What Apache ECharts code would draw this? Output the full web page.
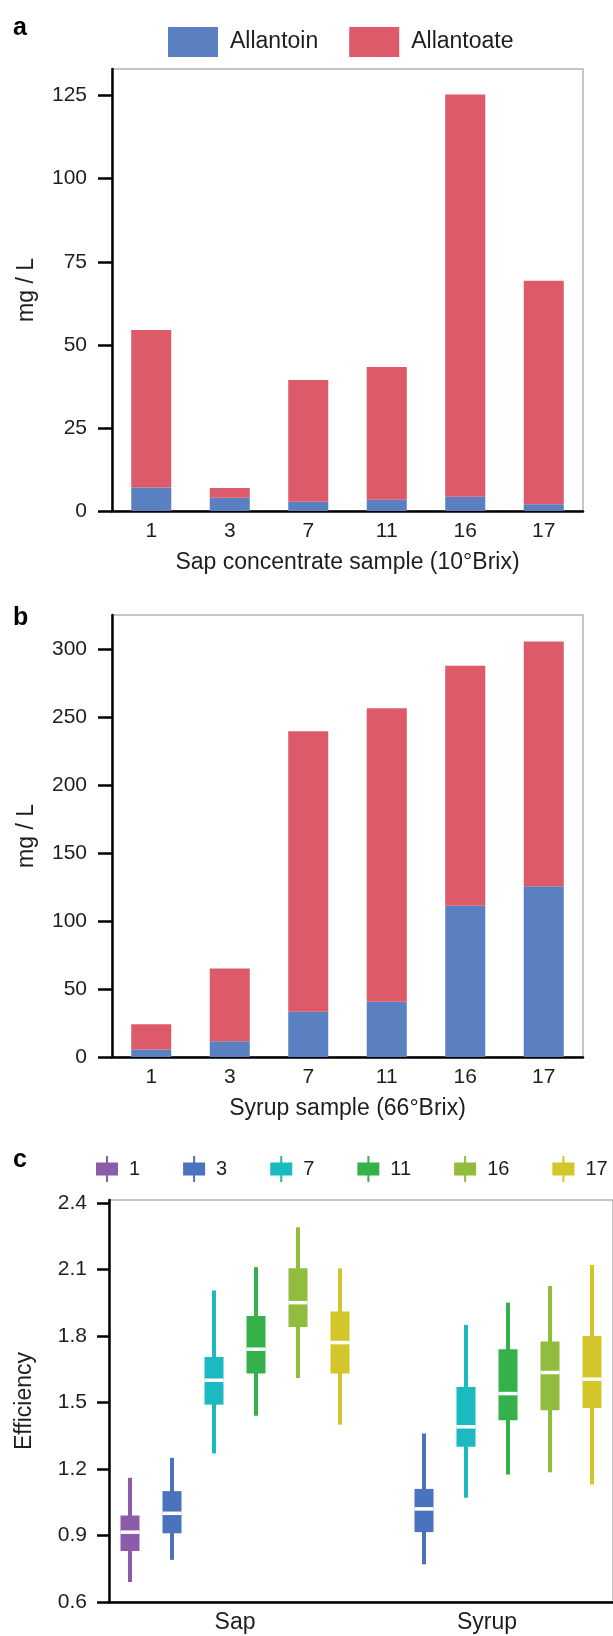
<!DOCTYPE html>
<html>
<head>
<meta charset="utf-8">
<script src="https://cdn.jsdelivr.net/npm/echarts@6.0.0/dist/echarts.min.js"></script>
<style>
  html, body { margin: 0; padding: 0; background: #fff; }
  #chart { width: 613px; height: 1636px; }
</style>
</head>
<body>
<div id="chart"></div>
<script>
const samples = ['1', '3', '7', '11', '16', '17'];

// a: sap concentrate (10°Brix), mg / L
const sapAllantoin = [7.1, 4.0, 2.8, 3.4, 4.3, 2.0];
const sapAllantoate = [47.4, 2.9, 36.6, 39.9, 121.0, 67.3];
const ticksA = [0, 25, 50, 75, 100, 125];

// b: syrup (66°Brix), mg / L
const syrupAllantoin = [5.5, 11.5, 33.3, 40.7, 111.3, 125.5];
const syrupAllantoate = [18.6, 53.6, 206.3, 215.7, 176.4, 180.0];
const ticksB = [0, 50, 100, 150, 200, 250, 300];

// c: efficiency, [min, q1, median, q3, max] for Sap / Syrup
const groupsC = ['Sap', 'Syrup'];
const eff1 = [[0.69, 0.83, 0.915, 0.99, 1.16], null];
const eff3 = [[0.79, 0.91, 1.00, 1.10, 1.25], [0.77, 0.915, 1.02, 1.11, 1.36]];
const eff7 = [[1.27, 1.49, 1.60, 1.705, 2.005], [1.07, 1.30, 1.39, 1.57, 1.85]];
const eff11 = [[1.44, 1.63, 1.74, 1.89, 2.11], [1.175, 1.42, 1.54, 1.74, 1.95]];
const eff16 = [[1.61, 1.84, 1.95, 2.105, 2.29], [1.185, 1.465, 1.635, 1.775, 2.025]];
const eff17 = [[1.40, 1.63, 1.77, 1.91, 2.105], [1.13, 1.475, 1.605, 1.80, 2.12]];
const ticksC = [0.6, 0.9, 1.2, 1.5, 1.8, 2.1, 2.4];

const blue = '#5a80c1';
const red = '#dc5a6a';
const boxColors = ['#8c5ca8', '#4a72be', '#1bbac0', '#34b14b', '#92bc3d', '#d3c62b'];
const font = '"Liberation Sans", Arial, Helvetica, sans-serif';
const ink = '#1e1e1e';

const chart = echarts.init(document.getElementById('chart'));

const yAxisBase = (ticks, max, tickLen) => ({
    type: 'value',
    min: ticks[0],
    max: max,
    nameLocation: 'middle',
    nameGap: 74,
    nameTextStyle: { fontSize: 23, color: ink, fontFamily: font },
    axisLine: { show: true, lineStyle: { color: '#000', width: 2.5 } },
    axisTick: { show: true, length: tickLen, customValues: ticks, lineStyle: { color: '#000', width: 2.5 } },
    axisLabel: { fontSize: 21, color: ink, fontFamily: font, margin: 25, customValues: ticks },
    splitLine: { show: false }
})

const xAxisBars = (gridIndex, name) => ({
    type: 'category',
    gridIndex: gridIndex,
    data: samples,
    name: name,
    nameLocation: 'middle',
    nameGap: 40,
    nameTextStyle: { fontSize: 23, color: ink, fontFamily: font },
    axisLine: { lineStyle: { color: '#000', width: 2.5 } },
    axisTick: { show: false },
    axisLabel: { fontSize: 21, color: ink, fontFamily: font, margin: 10 }
})

// box drawn from the axis scales: whisker, box, white median
const boxRender = (slot, color) => (params, api) => {
    const cat = api.value(0);
    const step = api.size([1, 0])[0] / 6;
    const x = api.coord([cat, 0])[0] + (slot - 2.5) * step;
    const yMin = api.coord([cat, api.value(1)])[1];
    const yQ1 = api.coord([cat, api.value(2)])[1];
    const yMed = api.coord([cat, api.value(3)])[1];
    const yQ3 = api.coord([cat, api.value(4)])[1];
    const yMax = api.coord([cat, api.value(5)])[1];
    const w = 19;
    return {
        type: 'group',
        children: [
            { type: 'line', shape: { x1: x, y1: yMax, x2: x, y2: yMin }, style: { stroke: color, lineWidth: 4 } },
            { type: 'rect', shape: { x: x - w / 2, y: yQ3, width: w, height: yQ1 - yQ3 }, style: { fill: color } },
            { type: 'line', shape: { x1: x - w / 2, y1: yMed, x2: x + w / 2, y2: yMed }, style: { stroke: '#fff', lineWidth: 3.5 } }
        ]
    };
}

const effSets = [eff1, eff3, eff7, eff11, eff16, eff17];
const boxSeries = effSets.map((set, i) => ({
    name: samples[i],
    type: 'custom',
    xAxisIndex: 2,
    yAxisIndex: 2,
    itemStyle: { color: boxColors[i] },
    encode: { x: 0, y: [1, 2, 3, 4, 5] },
    renderItem: boxRender(i, boxColors[i]),
    data: set.map((v, g) => v ? [g].concat(v) : null).filter(d => d)
}))

const option = {
    animation: false,
    textStyle: { fontFamily: font },
    graphic: [
        { type: 'text', left: 13, top: 16, style: { text: 'a', font: 'bold 25px ' + font, fill: '#000' } },
        { type: 'text', left: 13, top: 606, style: { text: 'b', font: 'bold 25px ' + font, fill: '#000' } },
        { type: 'text', left: 13, top: 1148, style: { text: 'c', font: 'bold 25px ' + font, fill: '#000' } }
    ],
    legend: [
        {
            data: ['Allantoin', 'Allantoate'],
            left: 163,
            top: 22,
            itemWidth: 50,
            itemHeight: 30,
            itemGap: 31,
            icon: 'rect',
            textStyle: { fontSize: 23, color: ink, fontFamily: font, padding: [0, 0, 0, 7] }
        },
        {
            data: samples,
            left: 91,
            top: 1151,
            width: 522,
            itemWidth: 22,
            itemHeight: 26,
            itemGap: 43,
            icon: 'path://M0,6.5H22V19.5H0Z M10,0H12V26H10Z',
            textStyle: { fontSize: 20, color: ink, fontFamily: font, padding: [0, 0, 0, 6] }
        }
    ],
    grid: [
        { left: 112, top: 69, width: 471, height: 442, show: true, borderColor: '#b4b4b4', borderWidth: 1.5 },
        { left: 112, top: 615, width: 471, height: 442, show: true, borderColor: '#b4b4b4', borderWidth: 1.5 },
        { left: 109, top: 1200, width: 505, height: 402, show: true, borderColor: '#b4b4b4', borderWidth: 1.5 }
    ],
    xAxis: [
        xAxisBars(0, 'Sap concentrate sample (10°Brix)'),
        xAxisBars(1, 'Syrup sample (66°Brix)'),
        {
            type: 'category',
            gridIndex: 2,
            data: groupsC,
            axisLine: { lineStyle: { color: '#000', width: 2.5 } },
            axisTick: { show: false },
            axisLabel: { fontSize: 23, color: ink, fontFamily: font, margin: 9 }
        }
    ],
    yAxis: [
        Object.assign(yAxisBase(ticksA, 133, 14), { gridIndex: 0, name: 'mg / L' }),
        Object.assign(yAxisBase(ticksB, 325, 14), { gridIndex: 1, name: 'mg / L' }),
        Object.assign(yAxisBase(ticksC, 2.413, 12), {
            gridIndex: 2,
            name: 'Efficiency',
            nameGap: 73,
            axisLabel: {
                fontSize: 21, color: ink, fontFamily: font, margin: 22, customValues: ticksC,
                formatter: v => v.toFixed(1)
            }
        })
    ],
    series: [
        { name: 'Allantoin', type: 'bar', stack: 'a', xAxisIndex: 0, yAxisIndex: 0, barWidth: '51%', itemStyle: { color: blue }, data: sapAllantoin },
        { name: 'Allantoate', type: 'bar', stack: 'a', xAxisIndex: 0, yAxisIndex: 0, barWidth: '51%', itemStyle: { color: red }, data: sapAllantoate },
        { name: 'Allantoin', type: 'bar', stack: 'b', xAxisIndex: 1, yAxisIndex: 1, barWidth: '51%', itemStyle: { color: blue }, data: syrupAllantoin },
        { name: 'Allantoate', type: 'bar', stack: 'b', xAxisIndex: 1, yAxisIndex: 1, barWidth: '51%', itemStyle: { color: red }, data: syrupAllantoate }
    ].concat(boxSeries)
}

chart.setOption(option);
window.onresize = () => {
    chart.resize()
}
</script>
</body>
</html>
